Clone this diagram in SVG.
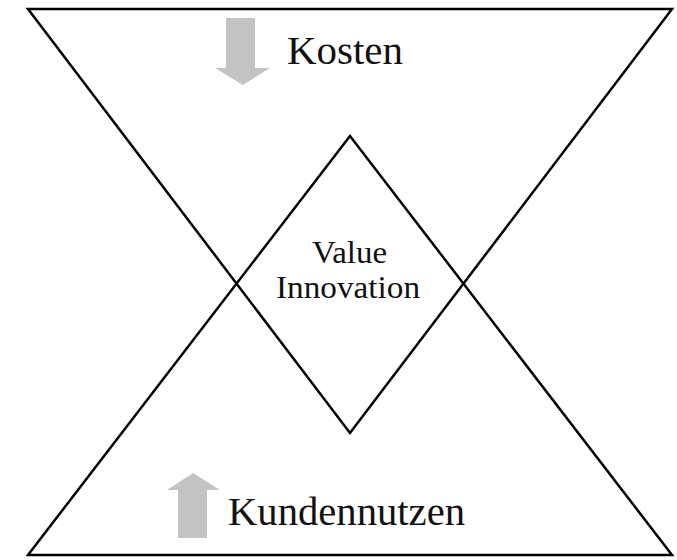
<svg xmlns="http://www.w3.org/2000/svg" width="677" height="560" viewBox="0 0 677 560">
<style>
.tri{fill:none;stroke:#000;stroke-width:2.5;stroke-linejoin:miter}
.arr{fill:#c3c3c3;stroke:none}
.lbl{font-family:"Liberation Serif","Times New Roman",serif;fill:#111}
</style>
<rect width="677" height="560" fill="#fff"/>
<g id="connectors">
<polygon id="top-triangle" class="tri" points="28,9 672,9 350,433"/>
<polygon id="bottom-triangle" class="tri" points="28,555 672,555 350,136"/>
</g>
<g id="kosten">
<polygon class="arr" points="226,18 255,18 255,68 270,68 243,85 215,68 226,68"/>
<text class="lbl" x="287" y="64" font-size="41" textLength="116" lengthAdjust="spacingAndGlyphs">Kosten</text>
</g>
<g id="kundennutzen">
<polygon class="arr" points="193,473 220,490 207,490 207,538 178,538 178,490 167,490"/>
<text class="lbl" x="228" y="525" font-size="41" textLength="237" lengthAdjust="spacingAndGlyphs">Kundennutzen</text>
</g>
<g id="value-innovation">
<text class="lbl" x="349.5" y="263" font-size="32" text-anchor="middle" textLength="75" lengthAdjust="spacingAndGlyphs">Value</text>
<text class="lbl" x="348" y="298" font-size="32" text-anchor="middle" textLength="144" lengthAdjust="spacingAndGlyphs">Innovation</text>
</g>
</svg>
